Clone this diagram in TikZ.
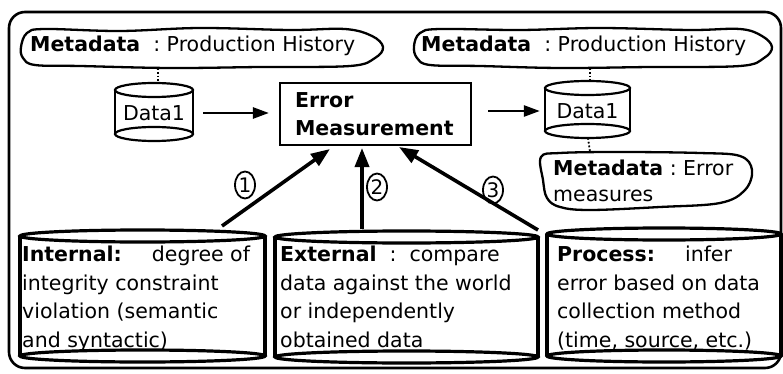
\documentclass[tikz,border=0pt]{standalone}
\usepackage{fontspec}
\setmainfont{DejaVu Sans}
\usetikzlibrary{arrows.meta,shapes.geometric}

% a drum: style, left x, right x, top-ellipse y, bottom-ellipse y, ellipse y-radius
\newcommand\vessel[6]{%
  \draw[#1] (#2,#4) -- (#2,#5) (#3,#4) -- (#3,#5);
  \draw[#1] ({(#2+#3)/2},#4) ellipse [x radius={(#3-#2)/2}, y radius=#6];
  \draw[#1] ({(#2+#3)/2},#5) ellipse [x radius={(#3-#2)/2}, y radius=#6];
}

\tikzset{
  blob/.style={line width=2.3pt, line join=round},
  drum/.style={line width=2.2pt},
  bigdrum/.style={line width=3.2pt},
  thickarrow/.style={line width=3.6pt, -{Triangle[length=19pt,width=14pt]}},
  flowarrow/.style={line width=2.6pt, -{Triangle[length=16pt,width=11pt]}},
  link/.style={line width=1.8pt, dotted},
  txt/.style={font=\fontsize{20.5}{28.5}\selectfont, inner sep=0pt},
  num/.style={draw, ellipse, line width=1.8pt, inner sep=0.5pt,
    minimum width=20pt, minimum height=27pt, font=\fontsize{20}{20}\selectfont},
}

\begin{document}
\begin{tikzpicture}[x=1pt,y=-1pt]
\useasboundingbox (0,0) rectangle (783,374);

% frame
\draw[line width=2.6pt, rounded corners=16pt] (9,12) rectangle (781,368);

% metadata clouds
\draw[blob] plot[smooth cycle, tension=0.6] coordinates {(21,47) (27,33) (45,29) (120,31) (200,28) (290,30) (345,29) (372,36) (383,47) (375,58) (350,66) (260,67) (170,68) (80,66) (35,65) (23,58)};
\node[txt, anchor=west] (mdL) at (30,46) {\textbf{Metadata}\ \ :\ Production History};

\draw[blob] plot[smooth cycle, tension=0.6] coordinates {(414,46) (420,33) (440,29) (520,30) (600,28) (690,30) (740,29) (762,36) (772,47) (764,58) (740,66) (650,67) (560,68) (480,66) (430,65) (417,58)};
\node[txt, anchor=west] (mdR) at (421,46) {\textbf{Metadata}\ \ :\ Production History};

\draw[blob] plot[smooth cycle, tension=0.6] coordinates {(541,157) (560,153) (620,152) (700,153) (740,156) (752,170) (745,190) (720,203) (660,207) (590,210) (560,207) (547,198) (543,180)};
\node[txt, anchor=north west, align=left, font=\fontsize{20.5}{26}\selectfont] (mdE) at (553,160) {\textbf{Metadata}\ :\ Error\\measures};

% data stores
\vessel{drum}{115}{193}{90}{134}{7}
\node[txt, minimum width=78pt] (dL) at (154,113) {Data1};
\vessel{drum}{545}{630}{88}{131}{7}
\node[txt, minimum width=85pt] (dR) at (587.5,111) {Data1};

% measurement box
\node[draw, line width=2.2pt, txt, inner xsep=15pt, text width=161pt, align=left,
  minimum height=62pt, font=\fontsize{20.5}{28}\selectfont\bfseries] (em) at (375.5,114) {Error\\Measurement};

% dotted links between metadata and stores
\coordinate (cL) at (158,68);  \coordinate (sL) at (158,83);
\coordinate (cR) at (590,68);  \coordinate (sR) at (590,81);
\coordinate (bR) at (588,138); \coordinate (eT) at (590,152);
\draw[link] (cL) -- (sL);
\draw[link] (cR) -- (sR);
\draw[link] (bR) -- (eT);

% flow
\draw[flowarrow, shorten <=10pt, shorten >=10pt] (dL.east) -- (dL.east -| em.west);
\draw[flowarrow, shorten <=16pt, shorten >=5pt] (em.east |- dR.west) -- (dR.west);

% error sources
\vessel{bigdrum}{20}{265}{236}{356}{6}
\node[txt, anchor=north west, align=left] (intl) at (22,246)
  {\textbf{Internal:}\hspace{30pt}degree of\\integrity constraint\\violation (semantic\\and syntactic)};
\vessel{bigdrum}{275}{538}{237}{357}{6}
\node[txt, anchor=north west, align=left] (extl) at (280,246)
  {\textbf{External}\ \ :\ \ compare\\data against the world\\or independently\\obtained data};
\vessel{bigdrum}{547}{781}{234}{356}{6}
\node[txt, anchor=north west, align=left] (proc) at (557,246)
  {\textbf{Process:}\hspace{30pt}infer\\error based on data\\collection method\\(time, source, etc.)};

\coordinate (s1) at (222,226); \coordinate (t1) at (330,149);
\coordinate (s2) at (362,229); \coordinate (t2) at (362,148);
\coordinate (s3) at (538,230); \coordinate (t3) at (399,147);
\draw[thickarrow] (s1) -- (t1);
\draw[thickarrow] (s2) -- (t2);
\draw[thickarrow] (s3) -- (t3);

\node[num] (n1) at (245,185) {1};
\node[num] (n2) at (377,187) {2};
\node[num] (n3) at (493,190) {3};
\end{tikzpicture}
\end{document}
